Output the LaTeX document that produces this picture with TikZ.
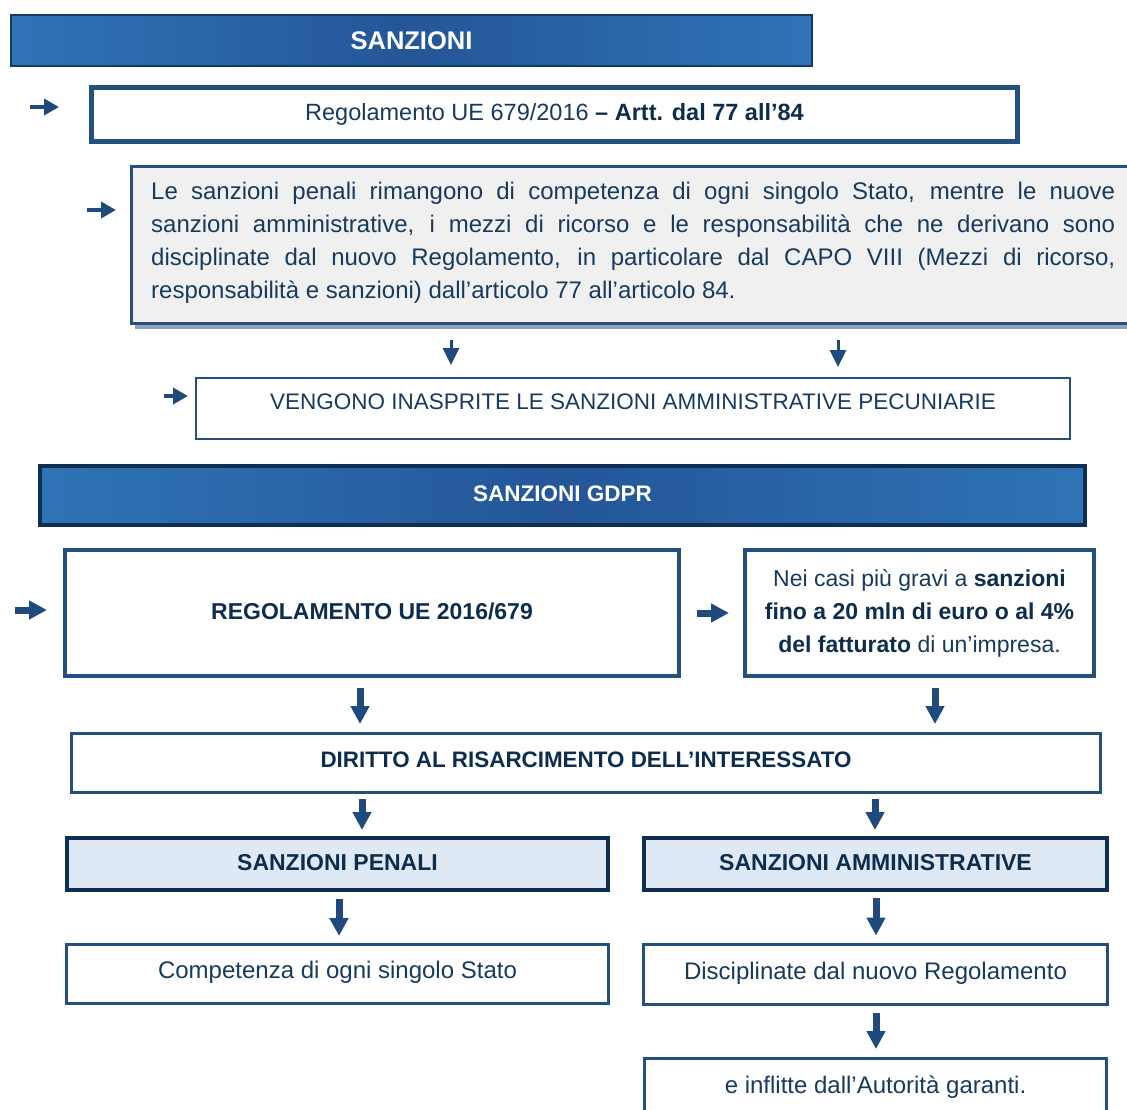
\documentclass[tikz,border=0pt]{standalone}
\usepackage{fontspec}
\setmainfont{Liberation Sans}
\usetikzlibrary{arrows.meta,shadows}
\definecolor{arrc}{HTML}{1F4A7D}
\definecolor{bordc}{HTML}{24507E}
\definecolor{txtc}{HTML}{173A5F}
\definecolor{boldc}{HTML}{0D2D4F}
\definecolor{hdrA}{HTML}{2F74B6}
\definecolor{hdrB}{HTML}{245698}
\definecolor{hdrbord}{HTML}{163A60}
\definecolor{greyfill}{HTML}{F0F0F0}
\definecolor{shadowc}{HTML}{8FA2B8}
\definecolor{lightblue}{HTML}{DEE9F5}
\definecolor{darknavy}{HTML}{0F2F52}
\tikzset{
  basefont/.style={font=\fontsize{24}{33}\selectfont},
  hdr/.style={draw=hdrbord, line width=2, left color=hdrA, right color=hdrA, middle color=hdrB,
    text=white, inner sep=0},
  boxA/.style={draw=bordc, fill=white, text=txtc, basefont, inner sep=0},
  subhdr/.style={draw=darknavy, line width=4, fill=lightblue, text=boldc,
    font=\bfseries\fontsize{23}{26}\selectfont, inner sep=0},
  sarrow/.style={draw=arrc, line width=3.5, -{Triangle[width=16pt,length=15pt]}},
  tarrow/.style={draw=arrc, line width=3, -{Triangle[width=16pt,length=17pt]}},
  karrow/.style={draw=arrc, line width=7, -{Triangle[width=18pt,length=18pt]}},
}
\begin{document}
\begin{tikzpicture}[x=1pt,y=-1pt]
\useasboundingbox (0,0) rectangle (1127,1109);
\clip (0,0) rectangle (1127,1109);

% Header 1
\node[hdr, minimum width=801, minimum height=51, font=\bfseries\fontsize{25.5}{28}\selectfont] (h1) at (411.5,40.5) {SANZIONI};

% Regolamento box
\coordinate (a1s) at (30,107);
\coordinate (a1e) at (59,107);
\draw[sarrow] (a1s) -- (a1e);
\node[boxA, line width=5, minimum width=926, minimum height=54, font=\fontsize{23.5}{28}\selectfont] (reg) at (554.5,114.5)
  {\raisebox{1pt}{Regolamento UE 679/2016 \textcolor{boldc}{\textbf{– Artt. dal 77 all’84}}}};

% Grey box
\coordinate (a2s) at (87,210);
\coordinate (a2e) at (116,210);
\draw[sarrow] (a2s) -- (a2e);
\node[draw=bordc, line width=3, fill=greyfill, minimum width=1000, minimum height=157,
  drop shadow={shadow xshift=3pt, shadow yshift=-5pt, fill=shadowc, opacity=1}] (gbox) at (631.5,245) {};
\node[text=txtc, basefont, text width=964, align=justify, inner sep=0, anchor=west] (gtext) at (151,243)
  {Le sanzioni penali rimangono di competenza di ogni singolo Stato, mentre le nuove\linebreak
   sanzioni amministrative, i mezzi di ricorso e le responsabilità che ne derivano sono\linebreak
   disciplinate dal nuovo Regolamento, in particolare dal CAPO VIII (Mezzi di ricorso,\linebreak
   responsabilità e sanzioni) dall’articolo 77 all’articolo 84.};

% Vengono box
\node[boxA, line width=2, minimum width=874, minimum height=61] (vbox) at (633,408.5) {};
\node[text=txtc, font=\fontsize{22.5}{27}\selectfont, inner sep=0] (vtext) at (633,402)
  {VENGONO INASPRITE LE SANZIONI AMMINISTRATIVE PECUNIARIE};
\draw[tarrow, shorten <=14.5, shorten >=12] (gbox.south -| 451,0) -- (vbox.north -| 451,0);
\draw[tarrow, shorten <=14.5, shorten >=10] (gbox.south -| 838,0) -- (vbox.north -| 838,0);
\coordinate (a3s) at (164,396);
\coordinate (a3e) at (188,396);
\draw[sarrow] (a3s) -- (a3e);

% Header 2
\node[hdr, draw=darknavy, line width=4, minimum width=1045, minimum height=59,
  font=\bfseries\fontsize{22.5}{26}\selectfont] (h2) at (562.5,495.5)
  {\raisebox{4pt}{SANZIONI GDPR}};

% Regolamento UE 2016/679
\coordinate (a4s) at (15,610);
\coordinate (a4e) at (47,610);
\draw[karrow] (a4s) -- (a4e);
\node[boxA, line width=4, minimum width=614, minimum height=126, text=boldc,
  font=\bfseries\fontsize{23}{26}\selectfont] (reg2) at (372,613) {\raisebox{3pt}{REGOLAMENTO UE 2016/679}};
\coordinate (a5s) at (697,613);
\coordinate (a5e) at (729,613);
\draw[karrow] (a5s) -- (a5e);
\node[boxA, line width=4, minimum width=349, minimum height=126, align=center,
  font=\fontsize{23}{33}\selectfont] (nei) at (919.5,613)
  {\raisebox{3pt}{Nei casi più gravi a \textcolor{boldc}{\textbf{sanzioni}}}\\
   \raisebox{3pt}{\textcolor{boldc}{\textbf{fino a 20 mln di euro o al 4\%}}}\\
   \raisebox{3pt}{\textcolor{boldc}{\textbf{del fatturato}} di un’impresa.}};

% Diritto box
\node[boxA, line width=3, minimum width=1029, minimum height=59, text=boldc,
  font=\bfseries\fontsize{22.4}{26}\selectfont] (dir) at (586,763) {\raisebox{6pt}{DIRITTO AL RISARCIMENTO DELL’INTERESSATO}};
\draw[karrow, shorten <=10, shorten >=8] (reg2.south -| 360,0) -- (dir.north -| 360,0);
\draw[karrow, shorten <=10, shorten >=8] (nei.south -| 935,0) -- (dir.north -| 935,0);

% Sub headers
\node[subhdr, minimum width=541, minimum height=52] (pen) at (337.5,864) {\raisebox{3pt}{SANZIONI PENALI}};
\node[subhdr, minimum width=463, minimum height=52] (amm) at (875.5,864) {\raisebox{4pt}{SANZIONI AMMINISTRATIVE}};
\draw[karrow, shorten <=4.5, shorten >=6] (dir.south -| 362,0) -- (pen.north -| 362,0);
\draw[karrow, shorten <=4.5, shorten >=6] (dir.south -| 875,0) -- (amm.north -| 875,0);

% Bottom boxes
\node[boxA, line width=3, minimum width=542, minimum height=59] (comp) at (337.5,974)
  {\raisebox{8pt}{Competenza di ogni singolo Stato}};
\node[boxA, line width=3, minimum width=464, minimum height=60] (disc) at (875.5,974.5)
  {\raisebox{7pt}{Disciplinate dal nuovo Regolamento}};
\draw[karrow, shorten <=7, shorten >=7] (pen.south -| 339,0) -- (comp.north -| 339,0);
\draw[karrow, shorten <=6, shorten >=7.5] (amm.south -| 876,0) -- (disc.north -| 876,0);
\node[boxA, line width=3, minimum width=462, minimum height=61] (infl) at (875.5,1089)
  {\raisebox{8pt}{e inflitte dall’Autorità garanti.}};
\draw[karrow, shorten <=7, shorten >=8] (disc.south -| 876,0) -- (infl.north -| 876,0);
\end{tikzpicture}
\end{document}
